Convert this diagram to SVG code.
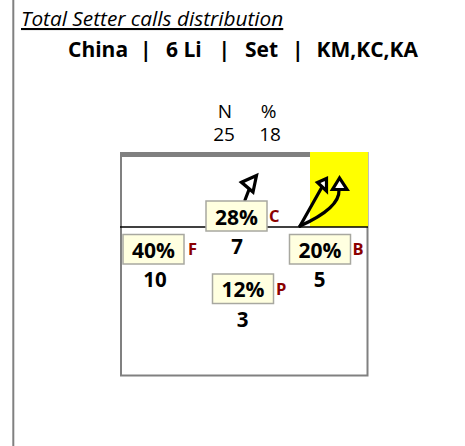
<svg xmlns="http://www.w3.org/2000/svg" width="465" height="446" viewBox="0 0 465 446">
<style>
text{font-family:"Open Sans","Noto Sans","DejaVu Sans",sans-serif;fill:#000}
.title{font-size:20.8px;font-style:italic;text-decoration:underline}
.hdr{font-size:21px;font-weight:bold}
.np{font-size:19px;text-anchor:middle}
.box{fill:#ffffe0;stroke:#a8a8a0;stroke-width:1.5}
.pct{font-size:21px;font-weight:bold;text-anchor:middle}
.cnt{font-size:20.5px;font-weight:bold;text-anchor:middle}
.zone{font-size:16.5px;font-weight:bold;fill:#8b0000}
.conn{fill:none;stroke:#000;stroke-width:3.2;stroke-linecap:round}
.head{fill:#fff;stroke:#000;stroke-width:3.2;stroke-linejoin:miter}
</style>
<line x1="13.3" y1="0" x2="13.3" y2="446" stroke="#808080" stroke-width="2"/>
<text class="title" x="21" y="26">Total Setter calls distribution</text>
<g id="header">
<text class="hdr" x="68" y="57">China</text>
<text class="hdr" x="140" y="57">|</text>
<text class="hdr" x="166" y="57">6 Li</text>
<text class="hdr" x="218.5" y="57">|</text>
<text class="hdr" x="245" y="57">Set</text>
<text class="hdr" x="292" y="57">|</text>
<text class="hdr" x="316.5" y="57">KM,KC,KA</text>
</g>
<g id="summary">
<text class="np" x="225" y="117.5">N</text>
<text class="np" x="268.5" y="117.5">%</text>
<text class="np" x="224" y="141">25</text>
<text class="np" x="270" y="141">18</text>
</g>
<g id="court">
<rect x="121" y="153" width="246.5" height="222.5" fill="#fff" stroke="#808080" stroke-width="2"/>
<rect x="120" y="152" width="190" height="5" fill="#808080"/>
<rect x="310" y="152" width="58" height="75" fill="#ffff00"/>
<line x1="120" y1="227" x2="368" y2="227" stroke="#000" stroke-width="1.5"/>
</g>
<g id="connectors">
<path class="conn" d="M245,200 L250,187"/>
<polygon class="head" points="241.5,182.3 256.5,175.5 253,192"/>
<path class="conn" d="M300,226 L322,187"/>
<polygon class="head" points="317.5,182.5 326.5,178.5 326.5,191"/>
<path class="conn" d="M300,226 Q340,208 339,190"/>
<polygon class="head" points="339.5,178 332.5,189.5 347,189.5"/>
</g>
<g id="zone-C">
<rect class="box" x="206" y="201" width="61" height="30"/>
<text class="pct" x="236.5" y="224.5">28%</text>
<text class="zone" x="269" y="221.5">C</text>
<text class="cnt" x="237" y="254">7</text>
</g>
<g id="zone-F">
<rect class="box" x="123" y="234.5" width="61" height="29.5"/>
<text class="pct" x="153.5" y="257.5">40%</text>
<text class="zone" x="188" y="255">F</text>
<text class="cnt" x="155" y="287">10</text>
</g>
<g id="zone-B">
<rect class="box" x="289.5" y="234.5" width="61" height="29.5"/>
<text class="pct" x="320" y="257.5">20%</text>
<text class="zone" x="352.5" y="255">B</text>
<text class="cnt" x="319.5" y="287">5</text>
</g>
<g id="zone-P">
<rect class="box" x="212.5" y="274" width="61" height="29.5"/>
<text class="pct" x="243" y="297">12%</text>
<text class="zone" x="276" y="295">P</text>
<text class="cnt" x="242.7" y="326.5">3</text>
</g>
</svg>
